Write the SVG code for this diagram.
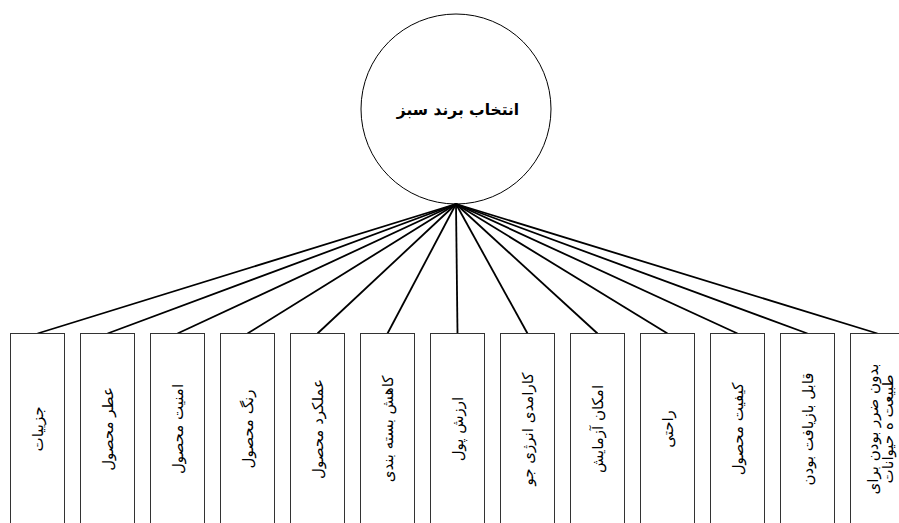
<svg xmlns="http://www.w3.org/2000/svg" width="899" height="523" viewBox="0 0 899 523">
<style>
.bg{fill:#fff}
.box{fill:#fff;stroke:#333;stroke-width:1}
.lbl{font-family:"DejaVu Sans",sans-serif;font-size:15px;fill:#000;text-anchor:middle;dominant-baseline:central}
.ttl{font-family:"DejaVu Sans",sans-serif;font-size:15.5px;font-weight:bold;fill:#000;text-anchor:middle;dominant-baseline:central}
.conn line{stroke:#000;stroke-width:1.8}
</style>
<rect class="bg" x="0" y="0" width="899" height="523"/>
<g id="root">
<circle cx="456" cy="109" r="95" fill="#fff" stroke="#000" stroke-width="1"/>
<text class="ttl" x="458" y="110" direction="rtl">انتخاب برند سبز</text>
</g>
<g id="connectors" class="conn">
<line x1="456" y1="204" x2="37.5" y2="333.5"/>
<line x1="456" y1="204" x2="107.5" y2="333.5"/>
<line x1="456" y1="204" x2="177.5" y2="333.5"/>
<line x1="456" y1="204" x2="247.5" y2="333.5"/>
<line x1="456" y1="204" x2="317.5" y2="333.5"/>
<line x1="456" y1="204" x2="387.5" y2="333.5"/>
<line x1="456" y1="204" x2="457.5" y2="333.5"/>
<line x1="456" y1="204" x2="527.5" y2="333.5"/>
<line x1="456" y1="204" x2="597.5" y2="333.5"/>
<line x1="456" y1="204" x2="667.5" y2="333.5"/>
<line x1="456" y1="204" x2="737.5" y2="333.5"/>
<line x1="456" y1="204" x2="807.5" y2="333.5"/>
<line x1="456" y1="204" x2="877.5" y2="333.5"/>
</g>
<g id="n1"><rect class="box" x="10.5" y="333.5" width="54" height="200"/><text class="lbl" transform="translate(38,429) rotate(-90)" direction="rtl">جزییات</text></g>
<g id="n2"><rect class="box" x="80.5" y="333.5" width="54" height="200"/><text class="lbl" transform="translate(108,429) rotate(-90)" direction="rtl">عطر محصول</text></g>
<g id="n3"><rect class="box" x="150.5" y="333.5" width="54" height="200"/><text class="lbl" transform="translate(178,429) rotate(-90)" direction="rtl">امنیت محصول</text></g>
<g id="n4"><rect class="box" x="220.5" y="333.5" width="54" height="200"/><text class="lbl" transform="translate(248,429) rotate(-90)" direction="rtl">رنگ محصول</text></g>
<g id="n5"><rect class="box" x="290.5" y="333.5" width="54" height="200"/><text class="lbl" transform="translate(318,429) rotate(-90)" direction="rtl">عملکرد محصول</text></g>
<g id="n6"><rect class="box" x="360.5" y="333.5" width="54" height="200"/><text class="lbl" transform="translate(388,429) rotate(-90)" direction="rtl">کاهش بسته بندی</text></g>
<g id="n7"><rect class="box" x="430.5" y="333.5" width="54" height="200"/><text class="lbl" transform="translate(458,429) rotate(-90)" direction="rtl">ارزش پول</text></g>
<g id="n8"><rect class="box" x="500.5" y="333.5" width="54" height="200"/><text class="lbl" transform="translate(528,429) rotate(-90)" direction="rtl">کارامدی انرژی جو</text></g>
<g id="n9"><rect class="box" x="570.5" y="333.5" width="54" height="200"/><text class="lbl" transform="translate(598,429) rotate(-90)" direction="rtl">امکان آزمایش</text></g>
<g id="n10"><rect class="box" x="640.5" y="333.5" width="54" height="200"/><text class="lbl" transform="translate(668,429) rotate(-90)" direction="rtl">راحتی</text></g>
<g id="n11"><rect class="box" x="710.5" y="333.5" width="54" height="200"/><text class="lbl" transform="translate(738,429) rotate(-90)" direction="rtl">کیفیت محصول</text></g>
<g id="n12"><rect class="box" x="780.5" y="333.5" width="54" height="200"/><text class="lbl" transform="translate(808,429) rotate(-90)" direction="rtl">قابل بازیافت بودن</text></g>
<g id="n13"><rect class="box" x="850.5" y="333.5" width="54" height="200"/><text class="lbl" transform="translate(873,429) rotate(-90)" direction="rtl"><tspan x="0" dy="0">بدون ضرر بودن برای</tspan><tspan x="0" dy="15">طبیعت ه حیوانات</tspan></text></g>
</svg>
